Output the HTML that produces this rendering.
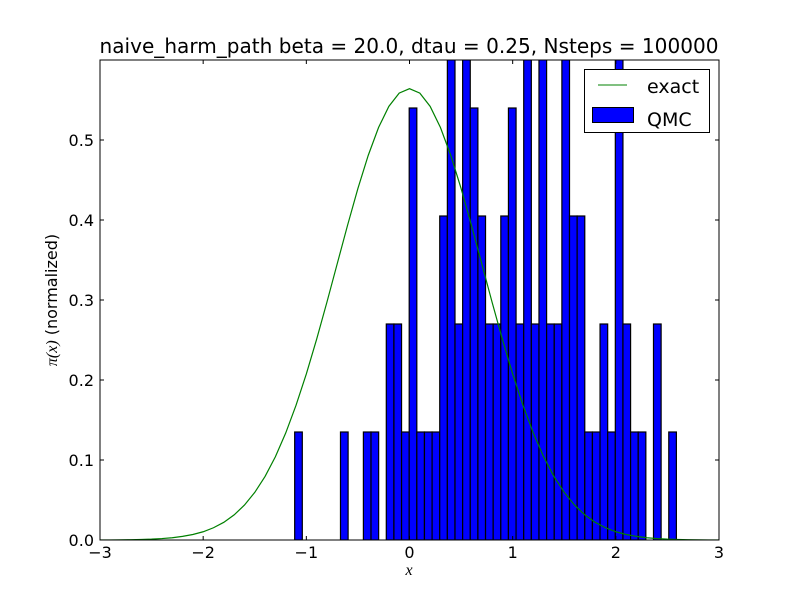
<!DOCTYPE html>
<html><head><meta charset="utf-8"><style>
body{margin:0;background:#fff}
svg{display:block;font-family:"DejaVu Sans","Liberation Sans",sans-serif}
</style></head><body>
<svg id="chart" width="800" height="600" viewBox="0 0 800 600">
<rect x="0" y="0" width="800" height="600" fill="#fff"/>
<text x="409" y="53" font-size="20" text-anchor="middle" textLength="619" lengthAdjust="spacingAndGlyphs">naive_harm_path beta = 20.0, dtau = 0.25, Nsteps = 100000</text>
<defs><clipPath id="pc"><rect x="100" y="60" width="619" height="480"/></clipPath></defs>
<g id="bars" clip-path="url(#pc)"></g>
<g id="curve" clip-path="url(#pc)"></g>
<g id="ticks"></g>
<rect x="100" y="60" width="619" height="480" fill="none" stroke="#000" stroke-width="1"/>
<text x="409" y="575" font-size="16" font-style="italic" font-family="Liberation Serif, serif" text-anchor="middle">x</text>
<text transform="translate(57,300) rotate(-90)" font-size="16" text-anchor="middle"><tspan font-style="italic" font-family="Liberation Serif, serif">π(x)</tspan> (normalized)</text>
<g>
<rect x="584.5" y="69.5" width="125" height="63" fill="#fff" stroke="#000"/>
<line x1="598" y1="85" x2="627" y2="85" stroke="#008000" stroke-width="1"/>
<text x="647" y="93" font-size="19">exact</text>
<rect x="592.5" y="107.5" width="41" height="15" fill="#0000ff" stroke="#000"/>
<text x="647" y="126" font-size="19">QMC</text>
</g>
</svg>
<script>
const binIndex=[-12,-6,-3,-2,0,1,2,3,4,5,6,7,8,9,10,11,12,13,14,15,16,17,18,19,20,21,22,23,24,25,26,27,28,29,30,31,32,33,35,37];
const binCounts=[1,1,1,1,2,2,1,4,1,1,1,3,5,2,5,4,3,2,2,3,4,2,5,2,5,2,2,5,3,3,1,1,2,1,5,2,1,1,2,1];
const binStart=-0.225, binWidth=0.074, countUnit=0.135;
const curveX=[-3,-2.9,-2.8,-2.7,-2.6,-2.5,-2.4,-2.3,-2.2,-2.1,-2,-1.9,-1.8,-1.7,-1.6,-1.5,-1.4,-1.3,-1.2,-1.1,-1,-0.9,-0.8,-0.7,-0.6,-0.5,-0.4,-0.3,-0.2,-0.1,0,0.1,0.2,0.3,0.4,0.5,0.6,0.7,0.8,0.9,1,1.1,1.2,1.3,1.4,1.5,1.6,1.7,1.8,1.9,2,2.1,2.2,2.3,2.4,2.5,2.6,2.7,2.8,2.9,3];
const curveY=[0.0001,0.0001,0.0002,0.0004,0.0007,0.0011,0.0018,0.0028,0.0045,0.0069,0.0103,0.0153,0.0221,0.0314,0.0436,0.0595,0.0795,0.1041,0.1337,0.1683,0.2076,0.2510,0.2975,0.3456,0.3936,0.4394,0.4808,0.5156,0.5421,0.5586,0.5642,0.5586,0.5421,0.5156,0.4808,0.4394,0.3936,0.3456,0.2975,0.2510,0.2076,0.1683,0.1337,0.1041,0.0795,0.0595,0.0436,0.0314,0.0221,0.0153,0.0103,0.0069,0.0045,0.0028,0.0018,0.0011,0.0007,0.0004,0.0002,0.0001,0.0001];
const xTicks=[-3,-2,-1,0,1,2,3];
const xTickLabels=["−3","−2","−1","0","1","2","3"];
const yTicks=[0,0.1,0.2,0.3,0.4,0.5];
const yTickLabels=["0.0","0.1","0.2","0.3","0.4","0.5"];
const NS='http://www.w3.org/2000/svg';
const sx=v=>100+(v+3)/6*619;
const sy=v=>540-v/0.6*480;
const bars=document.getElementById('bars');
binIndex.forEach((k,i)=>{
  const x0=sx(binStart+k*binWidth), x1=sx(binStart+(k+1)*binWidth);
  const h=binCounts[i]*countUnit;
  const r=document.createElementNS(NS,'rect');
  r.setAttribute('x',x0);r.setAttribute('y',sy(h));
  r.setAttribute('width',x1-x0);r.setAttribute('height',sy(0)-sy(h));
  r.setAttribute('fill','#0000ff');r.setAttribute('stroke','#000');r.setAttribute('stroke-width','1.2');
  
  
  bars.appendChild(r);
});
const p=document.createElementNS(NS,'polyline');
p.setAttribute('points',curveX.map((x,i)=>sx(x)+','+sy(curveY[i])).join(' '));
p.setAttribute('fill','none');p.setAttribute('stroke','#008000');p.setAttribute('stroke-width','1.2');


document.getElementById('curve').appendChild(p);
const tg=document.getElementById('ticks');
function add(tag,attrs,txt){const e=document.createElementNS(NS,tag);for(const a in attrs)e.setAttribute(a,attrs[a]);if(txt)e.textContent=txt;tg.appendChild(e);return e;}
xTicks.forEach((v,i)=>{
  const x=sx(v);
  const t1=add('line',{x1:x,y1:540,x2:x,y2:536,stroke:'#000'});
  
  
  const t2=add('line',{x1:x,y1:60,x2:x,y2:64,stroke:'#000'});
  
  
  const l=add('text',{x:x,y:558,'font-size':16,'text-anchor':'middle'},xTickLabels[i]);
  
  
});
yTicks.forEach((v,i)=>{
  const y=sy(v);
  const t1=add('line',{x1:100,y1:y,x2:104,y2:y,stroke:'#000'});
  
  
  const t2=add('line',{x1:719,y1:y,x2:715,y2:y,stroke:'#000'});
  
  
  const l=add('text',{x:94,y:y+6,'font-size':16,'text-anchor':'end'},yTickLabels[i]);
  
  
});
</script>
</body></html>
